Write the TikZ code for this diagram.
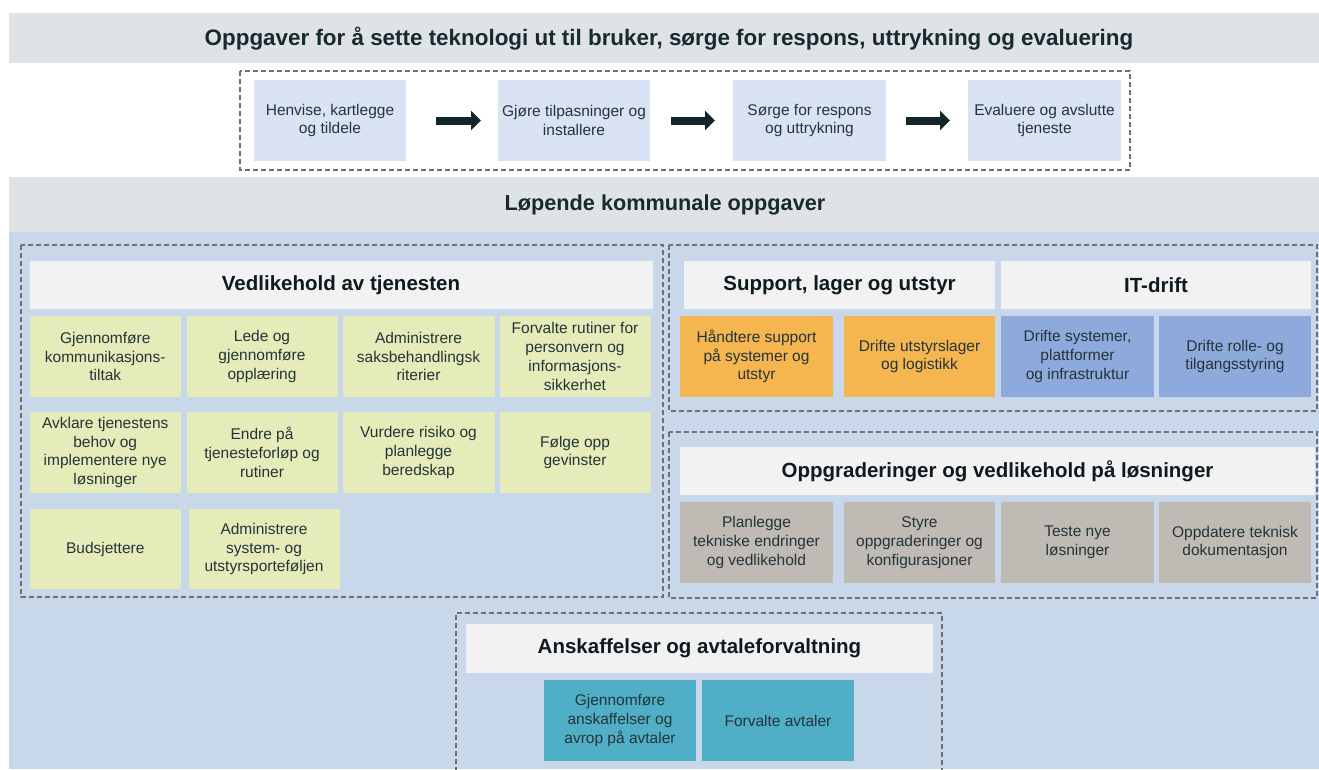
\documentclass[tikz,border=0pt]{standalone}
\usepackage{fontspec}
\setmainfont{Liberation Sans}
\usetikzlibrary{arrows.meta}
\definecolor{bandgray}{HTML}{DFE3E6}
\definecolor{bgblue}{HTML}{C8D7E9}
\definecolor{hdrwhite}{HTML}{F2F2F2}
\definecolor{flowblue}{HTML}{DAE3F3}
\definecolor{lime}{HTML}{E5ECBA}
\definecolor{orng}{HTML}{F6B64F}
\definecolor{mblue}{HTML}{8EA9DB}
\definecolor{wgray}{HTML}{BFBAB3}
\definecolor{teal}{HTML}{50AFC7}
\definecolor{txt}{HTML}{243439}
\definecolor{hdtxt}{HTML}{0D1A1F}
\definecolor{bandtxt}{HTML}{172A30}
\definecolor{dashc}{HTML}{707070}
\definecolor{arrc}{HTML}{13262B}
\newcommand\bx[7]{%
  \pgfmathsetmacro\bw{#4-#2}\pgfmathsetmacro\bh{#5-#3}%
  \node[#6, minimum width=\bw pt, minimum height=\bh pt] (#1) at ({(#2+#4)/2},{(#3+#5)/2}) {#7};}
\tikzset{
  base/.style={inner sep=0pt, outer sep=0pt, align=center, draw=none},
  task/.style={base, text=txt, font=\fontsize{15.5}{18.7}\selectfont},
  flowbox/.style={task, fill=flowblue},
  limebox/.style={task, fill=lime},
  orbox/.style={task, fill=orng},
  blbox/.style={task, fill=mblue},
  grbox/.style={task, fill=wgray},
  tlbox/.style={task, fill=teal},
  hdr/.style={base, fill=hdrwhite, text=hdtxt, font=\bfseries\fontsize{20.5}{24}\selectfont},
  band/.style={base, fill=bandgray},
  bandtext/.style={base, text=bandtxt},
  dashbox/.style={draw=dashc, line width=1.3pt, dash pattern=on 5pt off 3pt},
  flowarrow/.style={draw=arrc, line width=8pt, -{Triangle[length=10pt,width=19pt]}},
}
\begin{document}
\begin{tikzpicture}[x=1pt,y=-1pt]
\useasboundingbox (0,0) rectangle (1319,769);
\fill[white] (0,0) rectangle (1319,769);
% bands
\bx{band1}{9}{13}{1319}{63}{band}{}
\node[bandtext, font=\bfseries\fontsize{22.4}{26}\selectfont] (band1t) at (669,39) {Oppgaver for å sette teknologi ut til bruker, sørge for respons, uttrykning og evaluering};
\bx{band2}{9}{177}{1319}{232}{band}{}
\node[bandtext, font=\bfseries\fontsize{21.7}{26}\selectfont] (band2t) at (665,205) {Løpende kommunale oppgaver};
\fill[bgblue] (9,232) rectangle (1319,769);
% top flow
\draw[dashbox] (240,71) rectangle (1130,170);
\bx{f1}{254}{80}{406}{161}{flowbox}{Henvise, kartlegge\\og tildele}
\bx{f2}{498}{80}{650}{161}{flowbox}{Gjøre tilpasninger og\\installere}
\bx{f3}{733}{80}{886}{161}{flowbox}{Sørge for respons\\og uttrykning}
\bx{f4}{968}{80}{1121}{161}{flowbox}{Evaluere og avslutte\\tjeneste}
\draw[flowarrow, shorten <=30pt, shorten >=17pt] (f1.east) -- (f2.west);
\draw[flowarrow, shorten <=21pt, shorten >=18pt] (f2.east) -- (f3.west);
\draw[flowarrow, shorten <=20pt, shorten >=18pt] (f3.east) -- (f4.west);
% left section
\draw[dashbox] (21,245) rectangle (663,597);
\bx{hv}{29.5}{261}{652.5}{309}{hdr}{Vedlikehold av tjenesten}
\bx{g11}{29.5}{316}{181}{397}{limebox}{Gjennomføre\\kommunikasjons-\\tiltak}
\bx{g12}{186.5}{316}{337.5}{397}{limebox}{Lede og\\gjennomføre\\opplæring}
\bx{g13}{342.5}{316}{494.5}{397}{limebox}{Administrere\\saksbehandlingsk\\riterier}
\bx{g14}{499.5}{316}{650.5}{397}{limebox}{Forvalte rutiner for\\personvern og\\informasjons-\\sikkerhet}
\bx{g21}{29.5}{412}{181}{493}{limebox}{Avklare tjenestens\\behov og\\implementere nye\\løsninger}
\bx{g22}{186.5}{412}{337.5}{493}{limebox}{Endre på\\tjenesteforløp og\\rutiner}
\bx{g23}{342.5}{412}{494.5}{493}{limebox}{Vurdere risiko og\\planlegge\\beredskap}
\bx{g24}{499.5}{412}{650.5}{493}{limebox}{Følge opp\\gevinster}
\bx{g31}{29.5}{509}{181}{589}{limebox}{Budsjettere}
\bx{g32}{188.5}{509}{339.5}{589}{limebox}{Administrere\\system- og\\utstyrsporteføljen}
% right top
\draw[dashbox] (669,245) rectangle (1317,411);
\bx{hs}{684}{261}{995}{309}{hdr}{Support, lager og utstyr}
\bx{hi}{1001}{261}{1311}{309}{hdr}{IT-drift}
\bx{o1}{680}{316}{833}{397}{orbox}{Håndtere support\\på systemer og\\utstyr}
\bx{o2}{844}{316}{995}{397}{orbox}{Drifte utstyrslager\\og logistikk}
\bx{u1}{1001}{316}{1154}{397}{blbox}{Drifte systemer,\\plattformer\\og infrastruktur}
\bx{u2}{1159}{316}{1311}{397}{blbox}{Drifte rolle- og\\tilgangsstyring}
% right bottom
\draw[dashbox] (669,432) rectangle (1317,598);
\bx{ho}{680}{447}{1315}{495}{hdr}{Oppgraderinger og vedlikehold på løsninger}
\bx{r1}{680}{502}{833}{583}{grbox}{Planlegge\\tekniske endringer\\og vedlikehold}
\bx{r2}{844}{502}{995}{583}{grbox}{Styre\\oppgraderinger og\\konfigurasjoner}
\bx{r3}{1001}{502}{1154}{583}{grbox}{Teste nye\\løsninger}
\bx{r4}{1159}{502}{1311}{583}{grbox}{Oppdatere teknisk\\dokumentasjon}
% bottom
\draw[dashbox] (456,780) -- (456,613) -- (942,613) -- (942,780);
\bx{ha}{466}{624}{933}{673}{hdr}{Anskaffelser og avtaleforvaltning}
\bx{t1}{544}{680}{696}{761}{tlbox}{Gjennomføre\\anskaffelser og\\avrop på avtaler}
\bx{t2}{702}{680}{854}{761}{tlbox}{Forvalte avtaler}
\end{tikzpicture}
\end{document}
